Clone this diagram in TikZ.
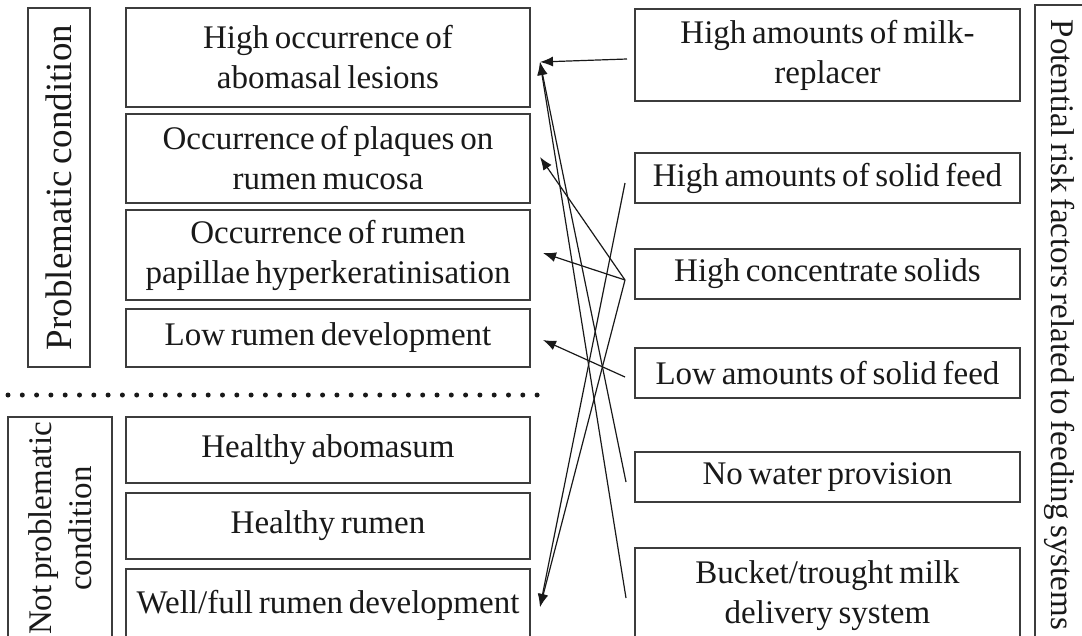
\documentclass[tikz,border=0pt]{standalone}
\usepackage{fontspec}
\setmainfont{Liberation Serif}[WordSpace=0.7]
\usetikzlibrary{positioning,arrows.meta}
\definecolor{edge}{RGB}{60,60,60}
\definecolor{ink}{RGB}{25,25,25}
\tikzset{
  box/.style={rectangle, draw=edge, line width=1.4pt, text=ink, align=center, inner sep=0pt, outer sep=0pt, font=\fontsize{33}{40}\selectfont},
  lbox/.style={box, minimum width=404pt},
  rbox/.style={box, minimum width=385pt},
  link/.style={draw=ink, line width=1.2pt, -{Latex[length=13pt,width=10pt]}}
}

\begin{document}
\begin{tikzpicture}[x=1pt,y=-1pt]
\useasboundingbox (0,0) rectangle (1082,635);
\clip (0,0) rectangle (1082,635);

% conditions
\node[lbox, minimum height=99pt] (l1) at (328,57.5) {High occurrence of\\abomasal lesions};
\node[lbox, minimum height=89pt, below=7pt of l1] (l2) {Occurrence of plaques on\\rumen mucosa};
\node[lbox, minimum height=90pt, below=7pt of l2] (l3) {Occurrence of rumen\\papillae hyperkeratinisation};
\node[lbox, minimum height=58pt, below=9pt of l3] (l4) {Low rumen development};
\node[lbox, minimum height=66pt, below=50pt of l4] (l5) {Healthy abomasum};
\node[lbox, minimum height=66pt, below=10pt of l5] (l6) {Healthy rumen};
\node[lbox, minimum height=72pt, below=10pt of l6] (l7) {Well/full rumen development};

% group labels
\node[box, rotate=90, minimum width=359pt, minimum height=62pt, font=\fontsize{37}{40}\selectfont] (prob) at (59,187.5) {Problematic condition};
\node[box, rotate=90, minimum width=223pt, minimum height=104pt] (notprob) at (60,528.5) {Not problematic\\condition};
\node[box, rotate=-90, minimum width=640pt, minimum height=50pt] (risk) at (1060,325) {Potential risk factors related to feeding systems};

\coordinate (dl) at (8,395);
\coordinate (dr) at (540,395);
\draw[draw=ink, line width=5pt, dash pattern=on 0pt off 14.3pt, line cap=round] (dl) -- (dr);

% risk factors
\node[rbox, minimum height=92pt] (ra) at (827.5,55) {High amounts of milk-\\replacer};
\node[rbox, minimum height=50pt, below=52pt of ra] (rb) {High amounts of solid feed};
\node[rbox, minimum height=50pt, below=46pt of rb] (rc) {High concentrate solids};
\node[rbox, minimum height=50pt, below=49pt of rc] (rd) {Low amounts of solid feed};
\node[rbox, minimum height=50pt, below=54pt of rd] (re) {No water provision};
\node[rbox, minimum height=96pt, below=46pt of re] (rf) {Bucket/trought milk\\delivery system};

\draw[link] ([shift={(-8,4)}]ra.west) -- ([shift={(10,4.5)}]l1.east);
\draw[link] ([shift={(-9,5)}]re.west) -- ([shift={(10,4.5)}]l1.east);
\draw[link] ([shift={(-9,2)}]rf.west) -- ([shift={(10,4.5)}]l1.east);
\draw[link] ([shift={(-10,6)}]rc.west) -- ([shift={(10,-1.5)}]l2.east);
\draw[link] ([shift={(-10,6)}]rc.west) -- ([shift={(13,-2)}]l3.east);
\draw[link] ([shift={(-10,4)}]rd.west) -- ([shift={(13,2)}]l4.east);
\draw[link] ([shift={(-10,5)}]rb.west) -- ([shift={(10,2)}]l7.east);
\draw[link] ([shift={(-10,6)}]rc.west) -- ([shift={(10,2)}]l7.east);

\end{tikzpicture}
\end{document}
